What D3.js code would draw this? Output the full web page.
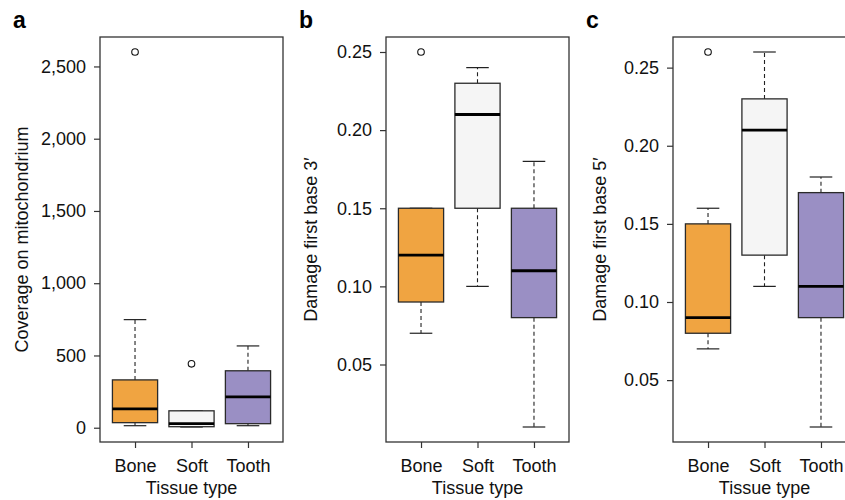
<!DOCTYPE html>
<html>
<head>
<meta charset="utf-8">
<script src="https://cdn.jsdelivr.net/npm/d3@7"></script>
<style>
  body { margin: 0; background: #fff; }
  svg { font-family: "Liberation Sans", Arial, sans-serif; }
</style>
</head>
<body>
<div id="chart"></div>
<script>
var svgWidth = 845;
var svgHeight = 500;

// Categories and colours
var tissues = ["Bone", "Soft", "Tooth"];
var tissueFills = ["#f0a441", "#f5f5f5", "#9a8fc4"];

// Box stats per tissue: [lower whisker, Q1, median, Q3, upper whisker]
var coverageStats = [[14, 35, 131, 331, 748], [5, 7, 28, 117, 117], [14, 28, 214, 394, 566]];
var coverageOutliers = [[2600], [442], []];
var coverageTicks = [0, 500, 1000, 1500, 2000, 2500];

var damage3Stats = [[0.07, 0.09, 0.12, 0.15, 0.15], [0.10, 0.15, 0.21, 0.23, 0.24], [0.01, 0.08, 0.11, 0.15, 0.18]];
var damage3Outliers = [[0.25], [], []];
var damage3Ticks = [0.05, 0.10, 0.15, 0.20, 0.25];

var damage5Stats = [[0.07, 0.08, 0.09, 0.15, 0.16], [0.11, 0.13, 0.21, 0.23, 0.26], [0.02, 0.09, 0.11, 0.17, 0.18]];
var damage5Outliers = [[0.26], [], []];
var damage5Ticks = [0.05, 0.10, 0.15, 0.20, 0.25];

var panels = [
    {letter: "a", left: 100, title: "Coverage on mitochondrium", titleX: 28,
     stats: coverageStats, outliers: coverageOutliers, ticks: coverageTicks, fmt: d3.format(",")},
    {letter: "b", left: 386, title: "Damage first base 3\u2032", titleX: 317,
     stats: damage3Stats, outliers: damage3Outliers, ticks: damage3Ticks, fmt: d3.format(".2f")},
    {letter: "c", left: 673, title: "Damage first base 5\u2032", titleX: 606,
     stats: damage5Stats, outliers: damage5Outliers, ticks: damage5Ticks, fmt: d3.format(".2f")}
];

var plotTop = 37;
var plotBottom = 442;
var plotWidth = 183;
var fontSize = "18px";

var svg = d3.select("#chart")
    .append("svg")
    .attr("width", svgWidth)
    .attr("height", svgHeight);

panels.forEach(function(p) {
    var g = svg.append("g");

    // x runs 0.5..3.5 plus 4% each side, like R's boxplot
    var xScale = d3.scaleLinear()
        .domain([0.38, 3.62])
        .range([p.left, p.left + plotWidth]);

    var allVals = d3.merge(p.stats).concat(d3.merge(p.outliers));
    var lo = d3.min(allVals), hi = d3.max(allVals);
    var pad = (hi - lo) * 0.04;
    var yScale = d3.scaleLinear()
        .domain([lo - pad, hi + pad])
        .range([plotBottom, plotTop]);

    var boxW = xScale(1.8) - xScale(1);
    var capW = boxW / 2;

    var boxes = g.selectAll(".box")
        .data(p.stats)
        .enter()
        .append("g");

    // Whiskers (dashed)
    boxes.append("line")
        .attr("x1", (d, i) => xScale(i + 1))
        .attr("x2", (d, i) => xScale(i + 1))
        .attr("y1", d => yScale(d[3]))
        .attr("y2", d => yScale(d[4]))
        .attr("stroke", "#222")
        .attr("stroke-width", 1.1)
        .attr("stroke-dasharray", "4,3");
    boxes.append("line")
        .attr("x1", (d, i) => xScale(i + 1))
        .attr("x2", (d, i) => xScale(i + 1))
        .attr("y1", d => yScale(d[1]))
        .attr("y2", d => yScale(d[0]))
        .attr("stroke", "#222")
        .attr("stroke-width", 1.1)
        .attr("stroke-dasharray", "4,3");

    // Caps
    boxes.append("line")
        .attr("x1", (d, i) => xScale(i + 1) - capW / 2)
        .attr("x2", (d, i) => xScale(i + 1) + capW / 2)
        .attr("y1", d => yScale(d[4]))
        .attr("y2", d => yScale(d[4]))
        .attr("stroke", "#222")
        .attr("stroke-width", 1.2);
    boxes.append("line")
        .attr("x1", (d, i) => xScale(i + 1) - capW / 2)
        .attr("x2", (d, i) => xScale(i + 1) + capW / 2)
        .attr("y1", d => yScale(d[0]))
        .attr("y2", d => yScale(d[0]))
        .attr("stroke", "#222")
        .attr("stroke-width", 1.2);

    boxes.append("rect")
        .attr("x", (d, i) => xScale(i + 1) - boxW / 2)
        .attr("width", boxW)
        .attr("y", d => yScale(d[3]))
        .attr("height", d => yScale(d[1]) - yScale(d[3]))
        .attr("fill", (d, i) => tissueFills[i])
        .attr("stroke", "#2a2a2a")
        .attr("stroke-width", 1.3);

    // Median
    boxes.append("line")
        .attr("x1", (d, i) => xScale(i + 1) - boxW / 2)
        .attr("x2", (d, i) => xScale(i + 1) + boxW / 2)
        .attr("y1", d => yScale(d[2]))
        .attr("y2", d => yScale(d[2]))
        .attr("stroke", "#000")
        .attr("stroke-width", 2.8);

    // Outliers
    p.outliers.forEach(function(vals, i) {
        g.selectAll(null)
            .data(vals)
            .enter()
            .append("circle")
            .attr("cx", xScale(i + 1))
            .attr("cy", d => yScale(d))
            .attr("r", 3.3)
            .attr("fill", "none")
            .attr("stroke", "#111")
            .attr("stroke-width", 1.1);
    });

    // Frame
    g.append("rect")
        .attr("x", p.left)
        .attr("y", plotTop)
        .attr("width", plotWidth)
        .attr("height", plotBottom - plotTop)
        .attr("fill", "none")
        .attr("stroke", "#333")
        .attr("stroke-width", 1.3);

    // Axes
    var leftAxis = d3.axisLeft(yScale)
        .tickValues(p.ticks)
        .tickFormat(p.fmt)
        .tickSize(6)
        .tickPadding(8);
    var yAxisG = g.append("g")
        .attr("transform", `translate(${p.left}, 0)`)
        .call(leftAxis);

    var bottomAxis = d3.axisBottom(xScale)
        .tickValues([1, 2, 3])
        .tickFormat((d, i) => tissues[i])
        .tickSize(6)
        .tickPadding(8);
    var xAxisG = g.append("g")
        .attr("transform", `translate(0, ${plotBottom})`)
        .call(bottomAxis);

    [yAxisG, xAxisG].forEach(function(ax) {
        ax.select(".domain").remove();
        ax.selectAll(".tick line").attr("stroke", "#333").attr("stroke-width", 1.2);
        ax.selectAll(".tick text")
            .attr("fill", "#111")
            .style("font-size", fontSize)
            .style("font-family", "\"Liberation Sans\", Arial, sans-serif");
    });
    xAxisG.selectAll(".tick text").attr("dy", "0.9em");

    // Axis titles
    g.append("text")
        .attr("x", xScale(2))
        .attr("y", 494)
        .attr("text-anchor", "middle")
        .style("font-size", fontSize)
        .attr("fill", "#111")
        .text("Tissue type");

    g.append("text")
        .attr("transform", `translate(${p.titleX}, ${(plotTop + plotBottom) / 2}) rotate(-90)`)
        .attr("text-anchor", "middle")
        .style("font-size", fontSize)
        .attr("fill", "#111")
        .text(p.title);

    // Panel letter
    g.append("text")
        .attr("x", p.left - 87)
        .attr("y", 28)
        .style("font-size", "23px")
        .style("font-weight", "bold")
        .attr("fill", "#000")
        .text(p.letter);
});
</script>
</body>
</html>
